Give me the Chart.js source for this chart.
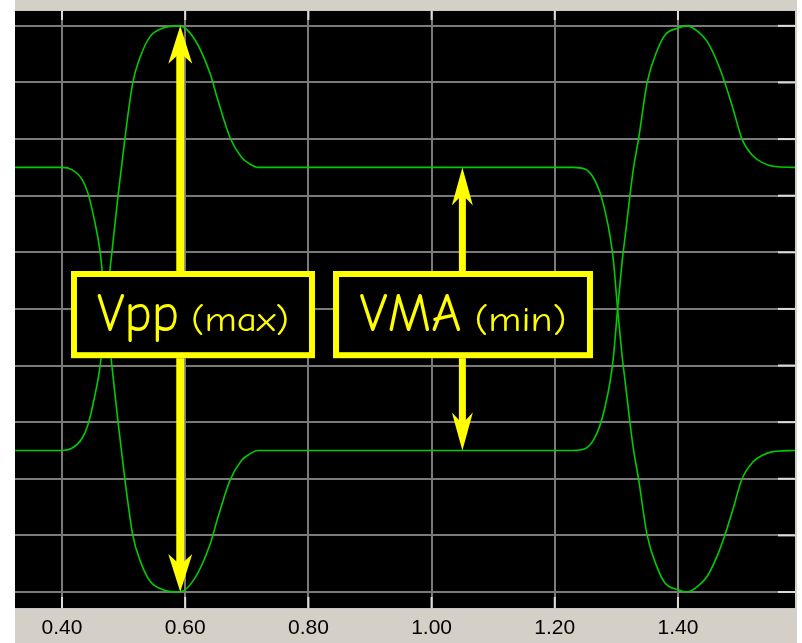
<!DOCTYPE html>
<html lang="en">
<head>
  <meta charset="UTF-8" />
  <title>Eye diagram - Vpp / VMA</title>
  <script src="https://cdn.jsdelivr.net/npm/chart.js"></script>
  <style>
    html, body { margin: 0; padding: 0; background: #fff; }
    canvas { display: block; }
  </style>
</head>
<body>

<canvas id="eye" width="802" height="643"></canvas>

<script>
  // time axis (same sample times for both traces)
  const time = [
    0.324, 0.400, 0.416, 0.433, 0.442, 0.452, 0.462, 0.471, 0.481, 0.491, 0.502, 0.515,
    0.527, 0.543, 0.564, 0.591, 0.616, 0.640, 0.653, 0.673, 0.692, 0.705, 0.718,
    1.230, 1.249, 1.262, 1.273, 1.282, 1.290, 1.295, 1.302, 1.309, 1.315, 1.322, 1.328,
    1.336, 1.350, 1.366, 1.379, 1.400, 1.415, 1.431, 1.447, 1.463, 1.476, 1.489, 1.504,
    1.522, 1.538, 1.554, 1.590
  ];

  // trace starting high
  const traceHigh = [
    2.50, 2.50, 2.46, 2.28, 2.05, 1.60, 1.00, 0.00, -1.00, -2.00, -3.00, -4.00,
    -4.45, -4.81, -4.96, -5.00, -4.75, -4.17, -3.69, -3.02, -2.67, -2.56, -2.50,
    -2.50, -2.47, -2.33, -2.07, -1.71, -1.27, -0.87, 0.00, 0.80, 1.35, 2.00, 2.50,
    3.00, 4.00, 4.56, 4.84, 4.96, 5.00, 4.91, 4.73, 4.38, 4.00, 3.55, 3.00,
    2.70, 2.58, 2.52, 2.50
  ];

  // trace starting low
  const traceLow = [
    -2.50, -2.50, -2.46, -2.28, -2.05, -1.60, -1.00, 0.00, 1.00, 2.00, 3.00, 4.00,
    4.45, 4.81, 4.96, 5.00, 4.75, 4.17, 3.69, 3.02, 2.67, 2.56, 2.50,
    2.50, 2.47, 2.33, 2.07, 1.71, 1.27, 0.87, 0.00, -0.80, -1.35, -2.00, -2.50,
    -3.00, -4.00, -4.56, -4.84, -4.96, -5.00, -4.91, -4.73, -4.38, -4.00, -3.55, -3.00,
    -2.70, -2.58, -2.52, -2.50
  ];

  const xTicks = [0.40, 0.60, 0.80, 1.00, 1.20, 1.40];
  const yTicks = [-5, -4, -3, -2, -1, 0, 1, 2, 3, 4, 5];

  // levels the two arrows point at
  const vppLevels = [5, -5];
  const vmaLevels = [2.5, -2.5];

  // annotation layout (data coords for anchors, pixels for sizes)
  const notes = [
    { x: 0.592, levels: vppLevels, shaft: 8, headW: 24, headL: 38,
      box: { x0: 0.4146, x1: 0.8107, y0: 0.67, y1: -0.87 },
      big: 'Vpp', small: '(max)', bigW: 82, smallW: 98, gap: 12 },
    { x: 1.050, levels: vmaLevels, shaft: 7, headW: 21, headL: 38,
      box: { x0: 0.840, x1: 1.262, y0: 0.67, y1: -0.87 },
      big: 'VMA', small: '(min)', bigW: 102, smallW: 92, gap: 13 }
  ];

  const GRID = '#7a7a7a';
  const TICK = '#dcdcdc';
  const YELLOW = '#ffff00';
  const NOTE_FONT = "'Comic Sans MS', 'Comic Neue', 'Noto Sans', sans-serif";

  function drawHead(ctx, x, tipY, dir, w, len, notch) {
    // dir -1 = pointing up, +1 = pointing down
    ctx.beginPath();
    ctx.moveTo(x, tipY);
    ctx.lineTo(x - w / 2, tipY - dir * len);
    ctx.lineTo(x, tipY - dir * (len - notch));
    ctx.lineTo(x + w / 2, tipY - dir * len);
    ctx.closePath();
    ctx.fill();
  }

  function fitText(ctx, text, x, y, width) {
    const w = ctx.measureText(text).width;
    ctx.save();
    ctx.translate(x, y);
    ctx.scale(width / w, 1);
    ctx.fillText(text, 0, 0);
    ctx.restore();
  }

  const eyeDecor = {
    id: 'eyeDecor',
    beforeDraw(chart) {
      const { ctx, chartArea: a, width, height } = chart;
      ctx.save();
      ctx.fillStyle = '#ffffff';
      ctx.fillRect(0, 0, width, height);
      ctx.fillStyle = '#d4d0c8';
      ctx.fillRect(a.left, 0, a.right - a.left + 2, height);
      ctx.fillStyle = '#000000';
      ctx.fillRect(a.left, a.top, a.right - a.left, a.bottom - a.top);
      ctx.restore();
    },
    beforeDatasetsDraw(chart) {
      // light tick marks inside the frame
      const { ctx, chartArea: a, scales } = chart;
      ctx.save();
      ctx.strokeStyle = TICK;
      ctx.lineWidth = 2;
      xTicks.forEach(v => {
        const px = scales.x.getPixelForValue(v);
        ctx.beginPath();
        ctx.moveTo(px, a.top); ctx.lineTo(px, a.top + 10);
        ctx.moveTo(px, a.bottom - 12); ctx.lineTo(px, a.bottom);
        ctx.stroke();
      });
      yTicks.forEach(v => {
        const py = scales.y.getPixelForValue(v);
        ctx.beginPath();
        ctx.moveTo(a.right - 17, py); ctx.lineTo(a.right, py);
        ctx.stroke();
      });
      ctx.strokeStyle = '#c8c8c8';
      ctx.lineWidth = 1;
      ctx.beginPath();
      ctx.moveTo(a.left, a.top + 0.5); ctx.lineTo(a.right, a.top + 0.5);
      ctx.moveTo(a.left, a.bottom - 0.5); ctx.lineTo(a.right, a.bottom - 0.5);
      ctx.stroke();
      ctx.restore();
    },
    afterDatasetsDraw(chart) {
      const { ctx, scales } = chart;
      const sx = scales.x, sy = scales.y;
      ctx.save();
      notes.forEach(n => {
        const x = sx.getPixelForValue(n.x);
        const top = sy.getPixelForValue(n.levels[0]);
        const bot = sy.getPixelForValue(n.levels[1]);
        const notch = 11;
        ctx.fillStyle = YELLOW;
        ctx.fillRect(x - n.shaft / 2, top + n.headL - notch, n.shaft,
                     bot - top - 2 * (n.headL - notch));
        drawHead(ctx, x, top, -1, n.headW, n.headL, notch);
        drawHead(ctx, x, bot, 1, n.headW, n.headL, notch);

        const l = sx.getPixelForValue(n.box.x0), r = sx.getPixelForValue(n.box.x1);
        const t = sy.getPixelForValue(n.box.y0), b = sy.getPixelForValue(n.box.y1);
        ctx.fillStyle = '#000000';
        ctx.fillRect(l, t, r - l, b - t);
        ctx.strokeStyle = YELLOW;
        ctx.lineWidth = 6;
        ctx.strokeRect(l + 3, t + 3, r - l - 6, b - t - 6);

        const total = n.bigW + n.gap + n.smallW;
        const start = (l + r) / 2 - total / 2;
        const base = b - 27;
        ctx.fillStyle = YELLOW;
        ctx.textBaseline = 'alphabetic';
        ctx.textAlign = 'left';
        ctx.font = '500 54px ' + NOTE_FONT;
        fitText(ctx, n.big, start, base, n.bigW);
        ctx.font = '500 34px ' + NOTE_FONT;
        fitText(ctx, n.small, start + n.bigW + n.gap, base, n.smallW);
      });
      ctx.restore();
    }
  };

  const lineStyle = {
    borderColor: '#00cc00',
    borderWidth: 1.6,
    pointRadius: 0,
    fill: false,
    cubicInterpolationMode: 'monotone'
  };

  new Chart(document.getElementById('eye'), {
    type: 'line',
    data: {
      datasets: [
        { ...lineStyle, label: 'high', data: time.map((t, i) => ({ x: t, y: traceHigh[i] })) },
        { ...lineStyle, label: 'low', data: time.map((t, i) => ({ x: t, y: traceLow[i] })) }
      ]
    },
    options: {
      responsive: false,
      animation: false,
      layout: { padding: { left: 15, right: 7, top: 10, bottom: 0 } },
      plugins: { legend: { display: false }, tooltip: { enabled: false } },
      scales: {
        x: {
          type: 'linear',
          min: 0.3237,
          max: 1.590,
          afterBuildTicks: s => { s.ticks = xTicks.map(v => ({ value: v })); },
          afterFit: s => { s.height = 34; },
          ticks: {
            callback: v => Number(v).toFixed(2),
            color: '#000',
            font: { family: "'Liberation Sans', Arial, sans-serif", size: 21 },
            padding: 7,
            maxRotation: 0,
            autoSkip: false
          },
          grid: { color: GRID, lineWidth: 2, drawTicks: false },
          border: { display: false }
        },
        y: {
          min: -5.3,
          max: 5.28,
          afterBuildTicks: s => { s.ticks = yTicks.map(v => ({ value: v })); },
          afterFit: s => { s.width = 0; },
          ticks: { display: false },
          grid: { color: GRID, lineWidth: 2, drawTicks: false },
          border: { display: false }
        }
      }
    },
    plugins: [eyeDecor]
  });
</script>

</body>
</html>
